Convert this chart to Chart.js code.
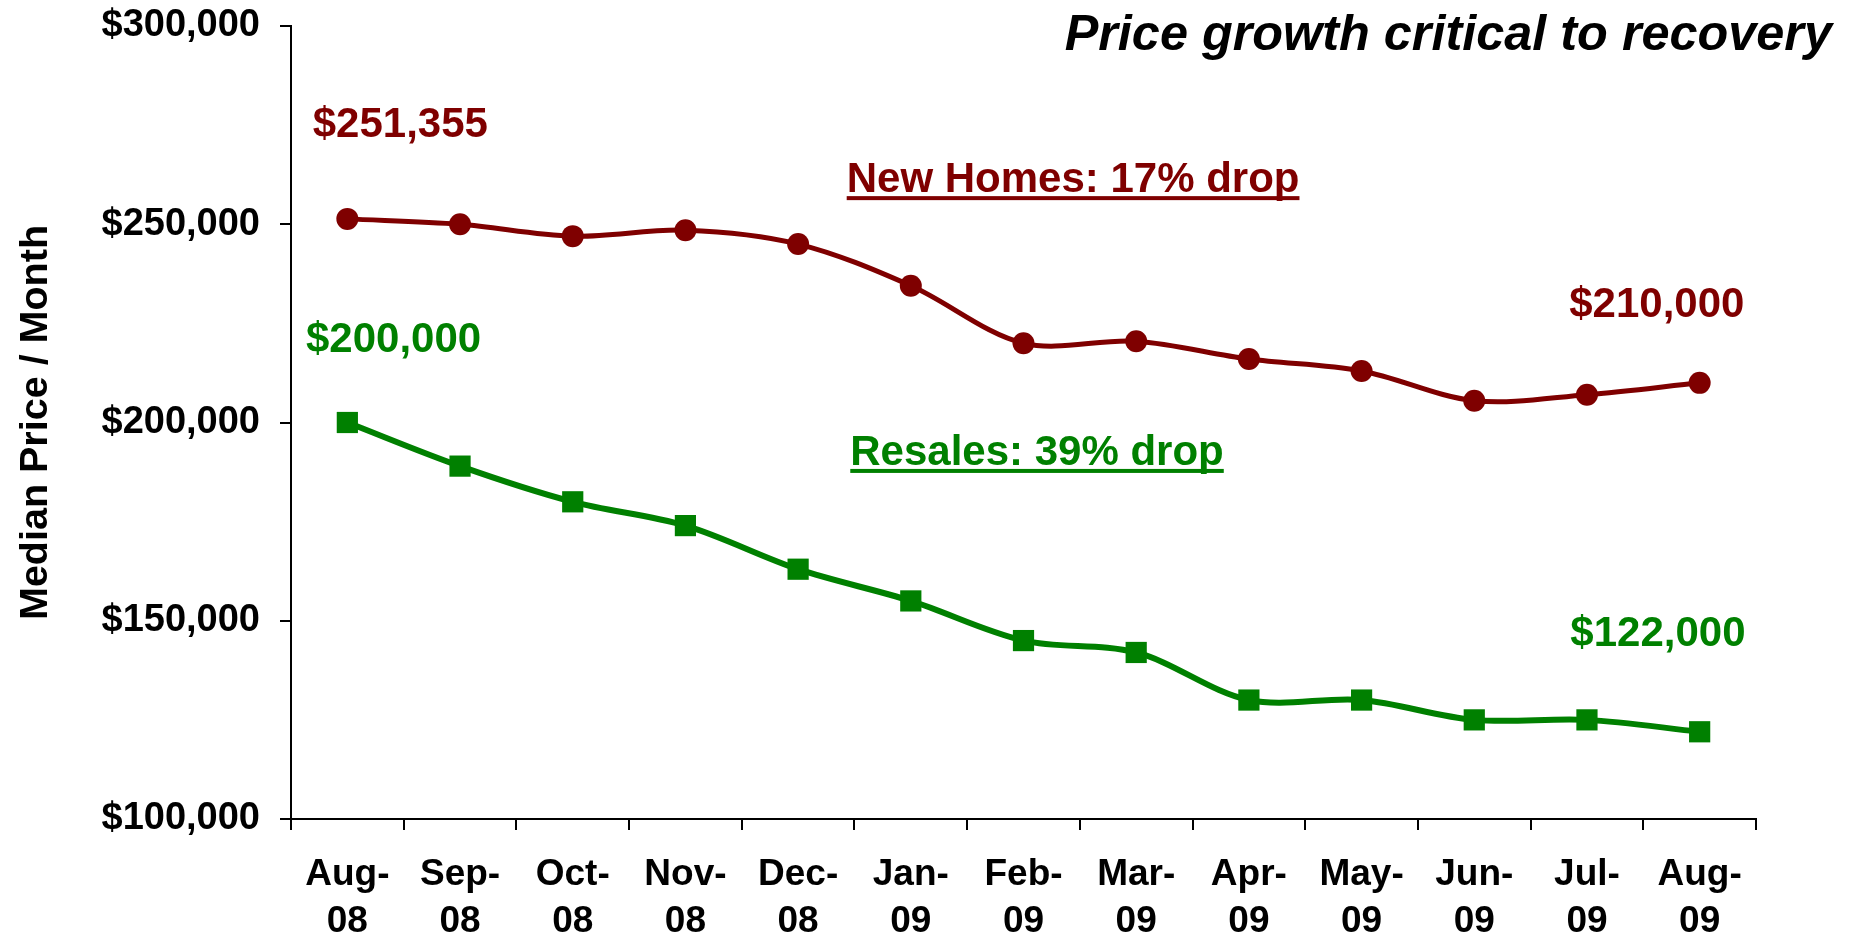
<!DOCTYPE html>
<html>
<head>
<meta charset="utf-8">
<title>Median Price / Month</title>
<script src="https://cdn.jsdelivr.net/npm/chart.js@4.4.1/dist/chart.umd.min.js"></script>
<style>
    html, body { margin: 0; padding: 0; background: #fff; }
</style>
</head>
<body>
<canvas id="price-chart" width="1855" height="940"></canvas>
<script>
// Chart data
const months = [['Aug-', '08'], ['Sep-', '08'], ['Oct-', '08'], ['Nov-', '08'], ['Dec-', '08'],
    ['Jan-', '09'], ['Feb-', '09'], ['Mar-', '09'], ['Apr-', '09'], ['May-', '09'],
    ['Jun-', '09'], ['Jul-', '09'], ['Aug-', '09']];
const newHomes = [251355, 250000, 247000, 248500, 245000, 234500, 220000, 220500, 216000, 213000, 205500, 207000, 210000];
const resales = [200000, 189000, 180000, 174000, 163000, 155000, 145000, 142000, 130000, 130000, 125000, 125000, 122000];
const yMin = 100000;
const yMax = 300000;
const yStep = 50000;

const RED = '#7f0000';
const GREEN = '#008000';
const FONT = '"Liberation Sans", Arial, sans-serif';

// Callout texts, anchored in data space (category index, value)
const notes = [
    {text: '$251,355', color: RED, idx: 0.47, value: 272000},
    {text: '$200,000', color: GREEN, idx: 0.41, value: 217800},
    {text: '$210,000', color: RED, idx: 11.62, value: 226600},
    {text: '$122,000', color: GREEN, idx: 11.63, value: 143600},
    {text: 'New Homes: 17% drop', color: RED, idx: 6.44, value: 258100, underline: true},
    {text: 'Resales: 39% drop', color: GREEN, idx: 6.12, value: 189300, underline: true}
];

const calloutPlugin = {
    id: 'callouts',
    afterDraw(chart) {
        const ctx = chart.ctx;
        const xs = chart.scales.x;
        const ys = chart.scales.y;
        ctx.save();
        ctx.textAlign = 'center';
        ctx.textBaseline = 'alphabetic';
        ctx.font = 'bold 42px ' + FONT;
        notes.forEach(n => {
            const x = xs.getPixelForValue(n.idx);
            const y = ys.getPixelForValue(n.value);
            ctx.fillStyle = n.color;
            ctx.fillText(n.text, x, y);
            if (n.underline) {
                const w = ctx.measureText(n.text).width;
                ctx.fillRect(x - w / 2, y + 4, w, 4);
            }
        });

        // headline in the top right corner
        const headline = 'Price growth critical to recovery';
        ctx.font = 'italic bold 44px "Comic Sans MS", ' + FONT;
        const scale = 767 / ctx.measureText(headline).width;
        ctx.font = 'italic bold ' + (44 * scale).toFixed(1) + 'px "Comic Sans MS", ' + FONT;
        ctx.textAlign = 'right';
        ctx.fillStyle = '#000';
        ctx.fillText(headline, 1832, 50);
        ctx.restore();
    }
};

const ctx = document.getElementById('price-chart').getContext('2d');
new Chart(ctx, {
    type: 'line',
    data: {
        labels: months,
        datasets: [{
            label: 'New Homes',
            data: newHomes,
            borderColor: RED,
            backgroundColor: RED,
            borderWidth: 5,
            pointStyle: 'circle',
            pointRadius: 11,
            pointBorderWidth: 0,
            pointBackgroundColor: RED,
            tension: 0.33,
            fill: false
        }, {
            label: 'Resales',
            data: resales,
            borderColor: GREEN,
            backgroundColor: GREEN,
            borderWidth: 6,
            pointStyle: 'rect',
            pointRadius: 15,
            pointBorderWidth: 0,
            pointBackgroundColor: GREEN,
            tension: 0.33,
            fill: false
        }]
    },
    options: {
        responsive: false,
        animation: false,
        layout: {
            padding: {left: 0, top: 26, right: 99, bottom: 0}
        },
        plugins: {
            legend: {display: false},
            tooltip: {enabled: false}
        },
        scales: {
            x: {
                offset: true,
                grid: {
                    offset: true,
                    drawOnChartArea: false,
                    tickLength: 11,
                    color: '#000',
                    lineWidth: 2
                },
                border: {color: '#000', width: 2},
                ticks: {
                    color: '#000',
                    autoSkip: false,
                    maxRotation: 0,
                    padding: 22,
                    font: {family: FONT, size: 37, weight: 'bold', lineHeight: 1.25}
                },
                afterFit: s => {
                    s.height = 121;
                    s.paddingLeft = 0;
                    s.paddingRight = 0;
                }
            },
            y: {
                min: yMin,
                max: yMax,
                grid: {
                    drawOnChartArea: false,
                    tickLength: 11,
                    color: '#000',
                    lineWidth: 2
                },
                border: {color: '#000', width: 2},
                ticks: {
                    stepSize: yStep,
                    color: '#000',
                    padding: 20,
                    font: {family: FONT, size: 38, weight: 'bold'},
                    callback: v => '$' + v.toLocaleString('en-US')
                },
                title: {
                    display: true,
                    text: 'Median Price / Month',
                    color: '#000',
                    font: {family: FONT, size: 39.5, weight: 'bold', lineHeight: 1},
                    padding: {top: 16, bottom: 0}
                },
                afterFit: s => {
                    s.width = 291;
                    s.paddingTop = 0;
                    s.paddingBottom = 0;
                }
            }
        }
    },
    plugins: [calloutPlugin]
});
</script>
</body>
</html>
